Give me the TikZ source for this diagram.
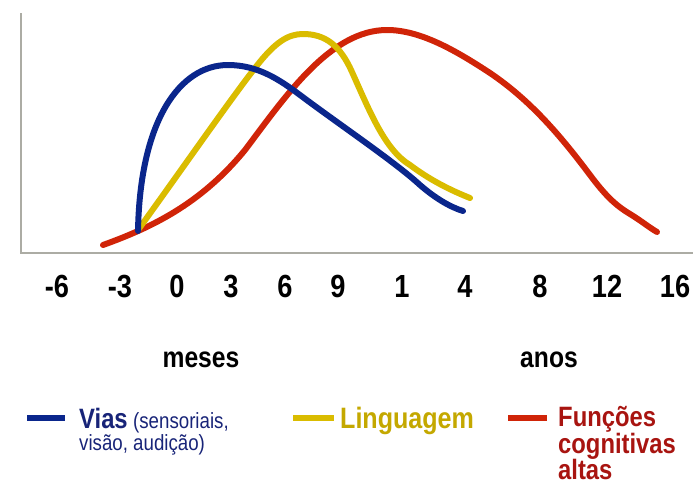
\documentclass[tikz,border=0pt]{standalone}
\usepackage{fontspec}
\setmainfont{Liberation Sans}[FakeStretch=0.85]
\definecolor{cblue}{RGB}{10,38,140}
\definecolor{cyellow}{RGB}{218,188,0}
\definecolor{cred}{RGB}{208,36,8}
\definecolor{tblue}{RGB}{24,36,120}
\definecolor{tyellow}{RGB}{196,168,0}
\definecolor{tred}{RGB}{168,20,16}
\definecolor{axisgray}{RGB}{172,172,164}
\begin{document}
\begin{tikzpicture}[x=1pt,y=-1pt,
  curve/.style={line width=6pt,line cap=round,line join=round},
  swatch/.style={line width=5.5pt},
  ticklab/.style={anchor=base,inner sep=0pt,font=\fontsize{32}{32}\selectfont\bfseries},
  unitlab/.style={anchor=base,inner sep=0pt,font=\fontsize{29}{29}\selectfont\bfseries},
  legbold/.style={anchor=base west,inner sep=0pt,font=\fontsize{28}{28}\selectfont\bfseries},
  legsmall/.style={anchor=base west,inner sep=0pt,font=\fontsize{22}{22}\selectfont}]
\useasboundingbox (0,0) rectangle (693,485);
% axes
\coordinate (ytop) at (21,13);
\coordinate (orig) at (21,253);
\coordinate (xend) at (693,253);
\draw[axisgray,line width=2pt] (ytop) -- (orig) -- (xend);
% curves
\draw[cred,curve] (103,245) .. controls (150,228) and (200,205) .. (245,150)
  .. controls (285,97) and (330,30) .. (387,30)
  .. controls (420,30) and (455,50) .. (490,73)
  .. controls (530,100) and (560,135) .. (590,175)
  .. controls (605,195) and (615,205) .. (630,214)
  .. controls (640,220) and (650,228) .. (657,232);
\draw[cyellow,curve] (138,230) .. controls (180,172) and (230,100) .. (255,68)
  .. controls (275,42) and (288,34) .. (303,34)
  .. controls (325,34) and (340,45) .. (352,72)
  .. controls (370,112) and (385,150) .. (410,165)
  .. controls (430,180) and (450,190) .. (470,198);
\draw[cblue,curve] (138,231) .. controls (140,120) and (180,65) .. (228,65)
  .. controls (258,65) and (280,80) .. (300,95)
  .. controls (340,125) and (395,162) .. (420,185)
  .. controls (435,198) and (450,207) .. (463,211);
% tick labels
\node[ticklab] (tm6) at (57,297) {-6};
\node[ticklab] (tm3) at (120,297) {-3};
\node[ticklab] (t0) at (177,297) {0};
\node[ticklab] (t3) at (231,297) {3};
\node[ticklab] (t6) at (285,297) {6};
\node[ticklab] (t9) at (338,297) {9};
\node[ticklab] (t1) at (402,297) {1};
\node[ticklab] (t4) at (465,297) {4};
\node[ticklab] (t8) at (540,297) {8};
\node[ticklab] (t12) at (607,297) {12};
\node[ticklab] (t16) at (675,297) {16};
\node[unitlab] (meses) at (201,367) {meses};
\node[unitlab] (anos) at (549,367) {anos};
% legend
\coordinate (b1) at (27,418); \coordinate (b2) at (65,418);
\coordinate (y1) at (293,418); \coordinate (y2) at (334,418);
\coordinate (r1) at (508,418); \coordinate (r2) at (547,418);
\draw[cblue,swatch] (b1) -- (b2);
\draw[cyellow,swatch] (y1) -- (y2);
\draw[cred,swatch] (r1) -- (r2);
\node[legbold,text=tblue] (vias) at (79,428) {Vias};
\node[legsmall,text=tblue,anchor=base west] (sens) at ([xshift=5pt]vias.base east) {(sensoriais,};
\node[legsmall,text=tblue] (visao) at (79,450) {visão, audição)};
\node[legbold,text=tyellow,font=\fontsize{29.5}{29.5}\selectfont\bfseries] (ling) at (340,428) {Linguagem};
\node[legbold,text=tred] (func) at (558,426) {Funções};
\node[legbold,text=tred] (cogn) at (558,453) {cognitivas};
\node[legbold,text=tred] (altas) at (558,479) {altas};
\end{tikzpicture}
\end{document}
